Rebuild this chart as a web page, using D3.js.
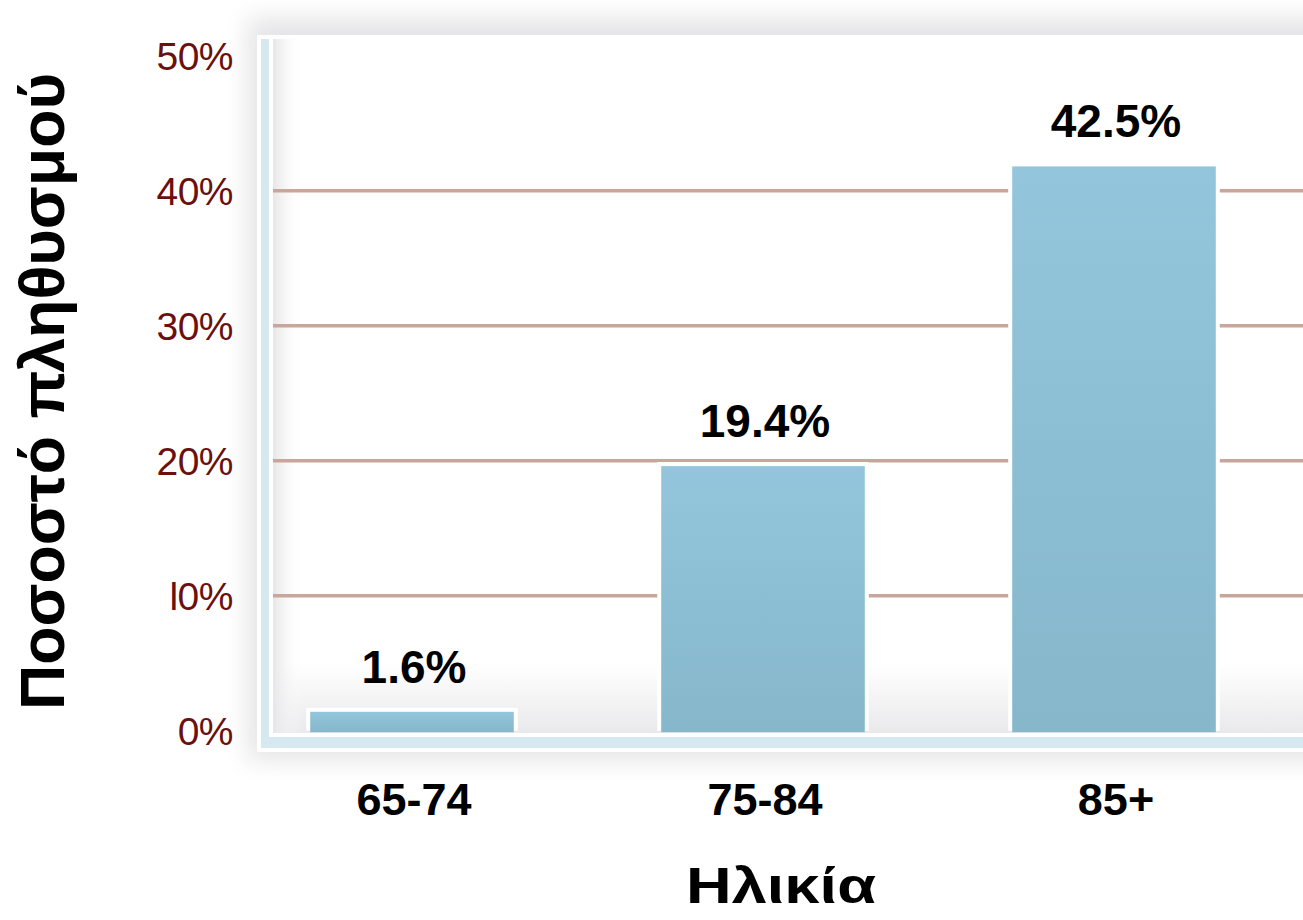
<!DOCTYPE html>
<html>
<head>
<meta charset="utf-8">
<script src="https://cdn.jsdelivr.net/npm/d3@7"></script>
<style>
  body { margin:0; background:#fff; }
  svg { display:block; }
</style>
</head>
<body>
<script>
// data
var categories = ["65-74", "75-84", "85+"];
var bar_values = [1.4, 19.6, 41.8];          // bar heights as drawn
var value_labels = ["1.6%", "19.4%", "42.5%"]; // printed on top of the bars
var y_ticks = [0, 10, 20, 30, 40, 50];
var y_tick_labels = ["0%", "l0%", "20%", "30%", "40%", "50%"];
var x_title = "Ηλικία";
var y_title = "Ποσοστό πληθυσμού";

var W = 1303, H = 920;
var plot = {left: 273, right: 1303, top: 39, bottom: 733};

var svg = d3.select('body').append('svg')
    .attr('width', W)
    .attr('height', H);

var defs = svg.append('defs');

// soft shadow round the panel
defs.append('filter')
    .attr('id', 'blur')
    .attr('x', '-10%').attr('y', '-10%').attr('width', '120%').attr('height', '120%')
    .append('feGaussianBlur').attr('stdDeviation', 12);

// plot background, grey toward the bottom
var bg = defs.append('linearGradient').attr('id', 'bgv')
    .attr('x1', 0).attr('x2', 0).attr('y1', 0).attr('y2', 1);
bg.append('stop').attr('offset', '0%').attr('stop-color', '#ffffff');
bg.append('stop').attr('offset', '90%').attr('stop-color', '#ffffff');
bg.append('stop').attr('offset', '100%').attr('stop-color', '#e9e9eb');

var bgh = defs.append('linearGradient').attr('id', 'bgh')
    .attr('x1', 0).attr('x2', 1).attr('y1', 0).attr('y2', 0);
bgh.append('stop').attr('offset', '0%').attr('stop-color', '#e6e6e8').attr('stop-opacity', 1);
bgh.append('stop').attr('offset', '100%').attr('stop-color', '#ffffff').attr('stop-opacity', 0);

var barGrad = defs.append('linearGradient').attr('id', 'bargrad')
    .attr('x1', 0).attr('x2', 0).attr('y1', 0).attr('y2', 1);
barGrad.append('stop').attr('offset', '0%').attr('stop-color', '#93c6dc');
barGrad.append('stop').attr('offset', '100%').attr('stop-color', '#86b7cb');

// scales
var x = d3.scaleBand()
    .domain(categories)
    .range([236.5, 1289.5])
    .paddingInner(0.42)
    .paddingOuter(0.21);

var y = d3.scaleLinear()
    .domain([0, 50])
    .range([730.7, 55.7]);

// panel shadow
svg.append('rect')
    .attr('x', 248).attr('y', 18)
    .attr('width', 1100).attr('height', 742)
    .attr('fill', '#e4e4e6')
    .attr('filter', 'url(#blur)');

// white outline of the axis frame
svg.append('rect')
    .attr('x', 257).attr('y', 35)
    .attr('width', W - 257 + 10).attr('height', 752 - 35)
    .attr('fill', '#ffffff');

// light blue L shaped axis
svg.append('rect')
    .attr('x', 261).attr('y', 39)
    .attr('width', W - 261 + 10).attr('height', 748 - 39)
    .attr('fill', '#d6e9f1');

svg.append('rect')
    .attr('x', 269).attr('y', 39)
    .attr('width', W - 269 + 10).attr('height', 737 - 39)
    .attr('fill', '#ffffff');

// plot area
svg.append('rect')
    .attr('x', plot.left).attr('y', plot.top)
    .attr('width', plot.right - plot.left).attr('height', plot.bottom - plot.top)
    .attr('fill', 'url(#bgv)');
svg.append('rect')
    .attr('x', plot.left).attr('y', plot.top)
    .attr('width', 30).attr('height', plot.bottom - plot.top)
    .attr('fill', 'url(#bgh)');

// gridlines
svg.append('g').attr('class', 'grid')
    .selectAll('line')
    .data(y_ticks.filter(function(d){ return d > 0 && d < 50; }))
    .enter()
    .append('line')
    .attr('x1', plot.left)
    .attr('x2', plot.right)
    .attr('y1', function(d){ return y(d); })
    .attr('y2', function(d){ return y(d); })
    .attr('stroke', '#c8a69a')
    .attr('stroke-width', 3.5);

// white halo round the bars, cuts the gridlines
svg.append('g').attr('class', 'halo')
    .selectAll('rect')
    .data(categories)
    .enter()
    .append('rect')
    .attr('x', function(d){ return x(d) - 4; })
    .attr('width', x.bandwidth() + 8)
    .attr('y', function(d, i){ return y(bar_values[i]) - 4; })
    .attr('height', function(d, i){ return y(0) - y(bar_values[i]) + 4; })
    .attr('fill', '#ffffff');

// bars
svg.append('g').attr('class', 'bars')
    .selectAll('rect')
    .data(categories)
    .enter()
    .append('rect')
    .attr('x', function(d){ return x(d); })
    .attr('width', x.bandwidth())
    .attr('y', function(d, i){ return y(bar_values[i]); })
    .attr('height', function(d, i){ return y(0) - y(bar_values[i]) + 1.5; })
    .attr('fill', 'url(#bargrad)');

// value labels
svg.append('g').attr('class', 'vlabels')
    .selectAll('text')
    .data(categories)
    .enter()
    .append('text')
    .attr('x', function(d){ return x(d) + x.bandwidth() / 2 + 2; })
    .attr('y', function(d, i){ return y(bar_values[i]) - 29; })
    .attr('text-anchor', 'middle')
    .attr('font-family', 'Liberation Sans, Arial, sans-serif')
    .attr('font-weight', 'bold')
    .attr('font-size', '46px')
    .attr('fill', '#000')
    .text(function(d, i){ return value_labels[i]; });

// y tick labels
svg.append('g').attr('class', 'yticks')
    .selectAll('text')
    .data(y_ticks)
    .enter()
    .append('text')
    .attr('x', 233)
    .attr('y', function(d){ return y(d); })
    .attr('dy', '0.36em')
    .attr('text-anchor', 'end')
    .attr('font-family', 'Liberation Sans, Arial, sans-serif')
    .attr('font-size', '39px')
    .attr('letter-spacing', '-0.5px')
    .attr('fill', '#6a100e')
    .text(function(d, i){ return y_tick_labels[i]; });

// x category labels
svg.append('g').attr('class', 'xticks')
    .selectAll('text')
    .data(categories)
    .enter()
    .append('text')
    .attr('x', function(d){ return x(d) + x.bandwidth() / 2 + 2; })
    .attr('y', 815)
    .attr('text-anchor', 'middle')
    .attr('font-family', 'Liberation Sans, Arial, sans-serif')
    .attr('font-weight', 'bold')
    .attr('font-size', '45px')
    .attr('fill', '#000')
    .text(function(d){ return d; });

// axis titles
svg.append('text')
    .attr('x', 686)
    .attr('y', 903)
    .attr('font-family', 'Liberation Sans, Arial, sans-serif')
    .attr('font-weight', 'bold')
    .attr('font-size', '50px')
    .attr('textLength', 190)
    .attr('lengthAdjust', 'spacingAndGlyphs')
    .text(x_title);

svg.append('text')
    .attr('transform', 'translate(64,710) rotate(-90)')
    .attr('font-family', 'Liberation Sans, Arial, sans-serif')
    .attr('font-weight', 'bold')
    .attr('font-size', '63px')
    .attr('textLength', 637)
    .attr('lengthAdjust', 'spacingAndGlyphs')
    .text(y_title);
</script>
</body>
</html>
